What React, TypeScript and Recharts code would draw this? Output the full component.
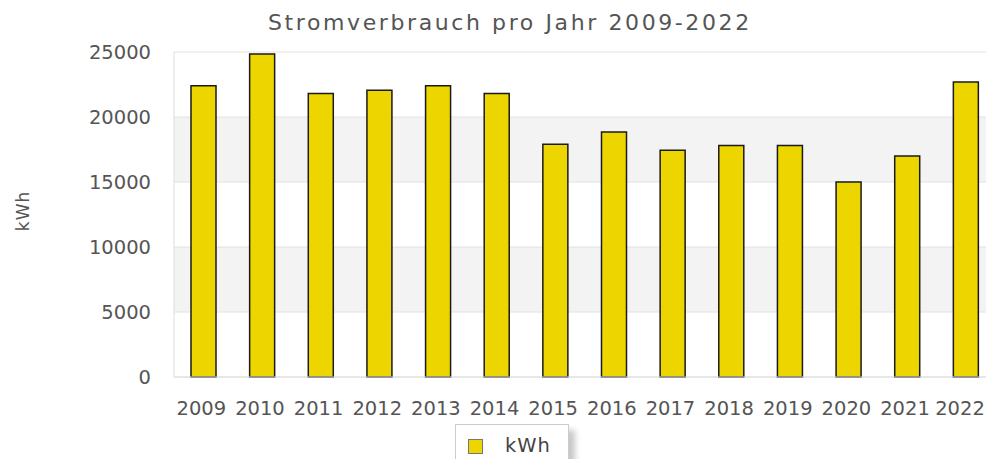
import { BarChart, Bar, XAxis, YAxis, CartesianGrid, Legend } from 'recharts';

const years = ['2009', '2010', '2011', '2012', '2013', '2014', '2015', '2016', '2017', '2018', '2019', '2020', '2021', '2022'];
const kwh = [22400, 24850, 21800, 22050, 22400, 21800, 17900, 18850, 17450, 17800, 17800, 15000, 17000, 22700];
const yTicks = [0, 5000, 10000, 15000, 20000, 25000];

const data = years.map((year, i) => ({ year, kwh: kwh[i] }));

const FONT = '"DejaVu Sans", Verdana, sans-serif';
const TEXT = '#555555';

function YLabel() {
  return (
    <text
      x={23}
      y={211}
      transform="rotate(-90, 23, 211)"
      textAnchor="middle"
      dominantBaseline="central"
      fontFamily={FONT}
      fontSize={17}
      letterSpacing={1}
      fill={TEXT}
    >
      kWh
    </text>
  );
}

function XTick({ x, y, payload }: any) {
  // keep the last label inside the visible window
  const cx = Math.min(x - 2, 960);
  return (
    <text
      x={cx}
      y={y}
      dy="0.71em"
      textAnchor="middle"
      fontFamily={FONT}
      fontSize={19.5}
      fill={TEXT}
    >
      {payload.value}
    </text>
  );
}

function LegendBox() {
  return (
    <div
      style={{
        width: 114,
        height: 44,
        boxSizing: 'border-box',
        border: '1px solid #cccccc',
        background: '#fff',
        boxShadow: '6px 6px 6px rgba(0,0,0,0.22)',
        position: 'relative',
        fontFamily: FONT,
        fontSize: 19.5,
        color: '#444',
      }}
    >
      <span
        style={{
          position: 'absolute',
          left: 12,
          top: 14,
          width: 13,
          height: 13,
          background: '#edd600',
          border: '1px solid #777',
        }}
      />
      <span style={{ position: 'absolute', left: 49, top: 9, letterSpacing: 1 }}>kWh</span>
    </div>
  );
}

export default function App() {
  return (
    <div style={{ position: 'fixed', left: 0, top: 0, width: 986, height: 459, overflow: 'hidden', background: '#fff' }}>
      <div
        style={{
          position: 'absolute',
          left: 268,
          top: 10,
          whiteSpace: 'nowrap',
          fontFamily: FONT,
          fontSize: 22,
          letterSpacing: 2.6,
          color: TEXT,
        }}
      >
        Stromverbrauch pro Jahr 2009-2022
      </div>
      <BarChart
        width={1000}
        height={459}
        data={data}
        margin={{ top: 52, right: 5, bottom: 0, left: 0 }}
        barCategoryGap={0}
      >
        <CartesianGrid
          vertical={false}
          stroke="#e2e2e2"
          horizontalFill={['#ffffff', '#f3f3f3']}
        />
        <XAxis
          dataKey="year"
          height={82}
          tickLine={false}
          tickSize={0}
          tickMargin={24}
          axisLine={{ stroke: '#dddddd' }}
          interval={0}
          tick={<XTick />}
        />
        <YAxis
          width={174}
          domain={[0, 25000]}
          ticks={yTicks}
          tickLine={false}
          tickSize={0}
          tickMargin={23}
          axisLine={{ stroke: '#dddddd' }}
          tick={{ fontFamily: FONT, fontSize: 19.5, fill: TEXT }}
          label={<YLabel />}
        />
        <Legend
          layout="horizontal"
          verticalAlign="middle"
          align="center"
          wrapperStyle={{ left: 455, top: 424, width: 114, height: 44 }}
          content={() => <LegendBox />}
        />
        <Bar
          dataKey="kwh"
          name="kWh"
          fill="#edd600"
          stroke="#1a1a1a"
          strokeWidth={1.5}
          barSize={25}
          isAnimationActive={false}
        />
      </BarChart>
    </div>
  );
}
